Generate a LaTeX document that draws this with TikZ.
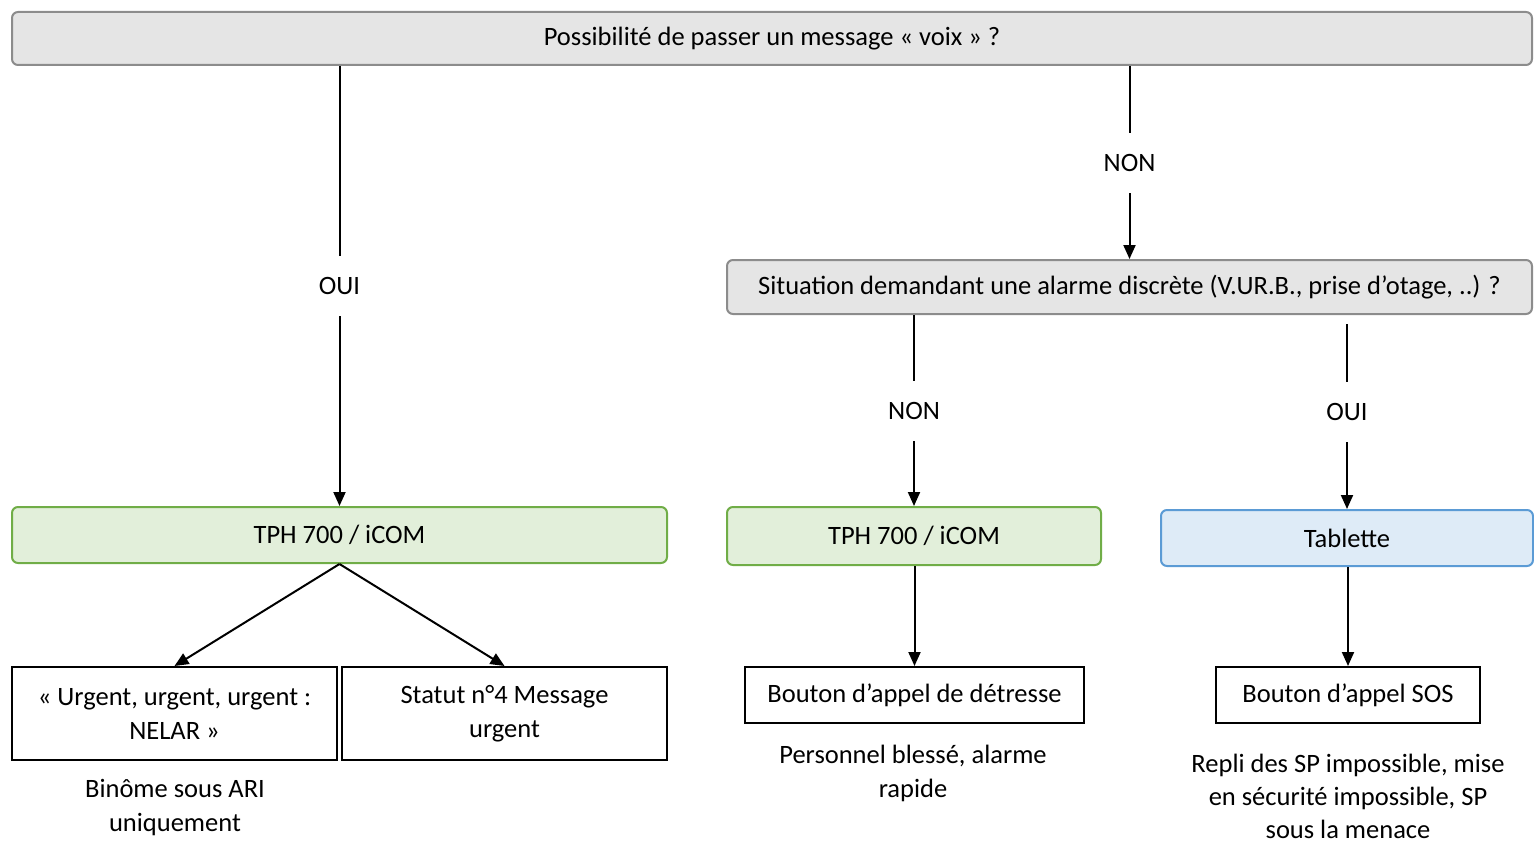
\documentclass[tikz,border=0pt]{standalone}
\usepackage{fontspec}
\setmainfont{Carlito}
\usetikzlibrary{arrows.meta}
\definecolor{grayfill}{HTML}{E5E5E5}
\definecolor{grayline}{HTML}{8C8C8C}
\definecolor{greenfill}{HTML}{E2EFDA}
\definecolor{greenline}{HTML}{70AD47}
\definecolor{bluefill}{HTML}{DEEBF7}
\definecolor{blueline}{HTML}{5B9BD5}
\begin{document}
\begin{tikzpicture}[x=1pt,y=-1pt,
  every node/.style={font=\fontsize{26.5}{34}\selectfont, text=black},
  rbox/.style={rounded corners=6pt, line width=2pt, inner sep=0pt},
  graybox/.style={rbox, draw=grayline, fill=grayfill},
  greenbox/.style={rbox, draw=greenline, fill=greenfill},
  bluebox/.style={rbox, draw=blueline, fill=bluefill},
  wbox/.style={draw=black, line width=2pt, fill=white, inner sep=0pt, align=center},
  note/.style={align=center, inner sep=0pt},
  lbl/.style={fill=white, inner sep=0pt, minimum height=60pt, minimum width=40pt},
  conn/.style={line width=2pt, -{Triangle[width=12pt,length=14pt]}}
]
\useasboundingbox (0,0) rectangle (1534,843);

\node[graybox, minimum width=1520pt, minimum height=53pt] (top) at (772,38.5) {Possibilité de passer un message « voix » ?};
\node[graybox, minimum width=805pt, minimum height=54pt] (sit) at (1129.5,287) {Situation demandant une alarme discrète (V.UR.B., prise d’otage, ..) ?};

\node[greenbox, minimum width=655pt, minimum height=56pt] (tph1) at (339.5,535) {TPH 700 / iCOM};
\node[greenbox, minimum width=374pt, minimum height=58pt] (tph2) at (914,536) {TPH 700 / iCOM};
\node[bluebox, minimum width=372pt, minimum height=56pt] (tab) at (1347,538) {Tablette};

\node[wbox, minimum width=325pt, minimum height=93pt] (urg) at (174.5,713.5) {« Urgent, urgent, urgent :\\NELAR »};
\node[wbox, minimum width=325pt, minimum height=93pt] (stat) at (504.5,713.5) {Statut n°4 Message\\urgent};
\node[wbox, minimum width=339pt, minimum height=56pt] (det) at (914.5,695) {Bouton d’appel de détresse};
\node[wbox, minimum width=264pt, minimum height=56pt] (sos) at (1348,695) {Bouton d’appel SOS};

\node[note] (bin) at (175,808) {Binôme sous ARI\\uniquement};
\node[note] (pers) at (913,773) {Personnel blessé, alarme\\rapide};
\node[note, font=\fontsize{26.5}{33}\selectfont] (repli) at (1348,796) {Repli des SP impossible, mise\\en sécurité impossible, SP\\sous la menace};

\draw[conn] (top.south -| tph1.north) -- node[lbl] {OUI} (tph1.north);
\draw[conn] (top.south -| sit.north) -- node[lbl] {NON} (sit.north);
\draw[conn] (sit.south -| tph2.north) -- node[lbl] {NON} (tph2.north);
\draw[conn, shorten <=9pt] (sit.south -| tab.north) -- node[lbl] {OUI} (tab.north);

\draw[conn] (tph1.south) -- (urg.north);
\draw[conn] (tph1.south) -- (stat.north);
\draw[conn] (tph2.south -| det.north) -- (det.north);
\draw[conn] (tab.south -| sos.north) -- (sos.north);
\end{tikzpicture}
\end{document}
